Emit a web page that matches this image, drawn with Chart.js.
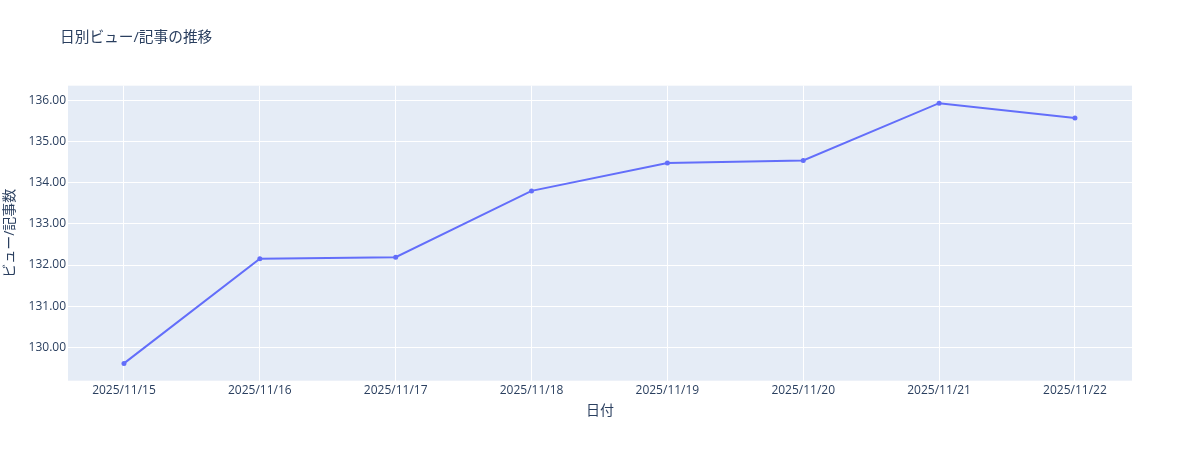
<!DOCTYPE html>
<html>
<head>
<meta charset="utf-8">
<script src="https://cdn.jsdelivr.net/npm/chart.js@4"></script>
<style>
html,body{margin:0;padding:0;background:#fff;}
#wrap{width:1200px;height:450px;}
</style>
</head>
<body>
<div id="wrap"><canvas id="c" width="1200" height="450"></canvas></div>
<script>
const chartTitle = '日別ビュー/記事の推移';
const xTitle = '日付';
const yTitle = 'ビュー/記事数';
const dates = ['2025/11/15','2025/11/16','2025/11/17','2025/11/18','2025/11/19','2025/11/20','2025/11/21','2025/11/22'];
const values = [129.61, 132.15, 132.19, 133.80, 134.48, 134.54, 135.93, 135.57];
const yTicks = [130, 131, 132, 133, 134, 135, 136];

const FONT = '"Open Sans", "Noto Sans CJK JP", sans-serif';
const TXT = '#2a3f5f';

const bgPlugin = {
  id: 'bg',
  beforeDraw(chart) {
    const {ctx, chartArea: a} = chart;
    ctx.save();
    ctx.fillStyle = '#E5ECF6';
    ctx.fillRect(a.left, a.top, a.right - a.left, a.bottom - a.top);
    ctx.restore();
  },
  afterDraw(chart) {
    const ctx = chart.ctx;
    ctx.save();
    ctx.fillStyle = TXT;
    ctx.font = '14.7px ' + FONT;
    ctx.textBaseline = 'middle';
    ctx.textAlign = 'left';
    ctx.fillText(chartTitle, 60, 38);
    ctx.restore();
  }
};

new Chart(document.getElementById('c'), {
  type: 'line',
  data: {
    datasets: [{
      data: values.map((v, i) => ({x: i, y: v})),
      borderColor: '#636efa',
      backgroundColor: '#636efa',
      borderWidth: 2,
      pointRadius: 2.5,
      pointHoverRadius: 2.5,
      pointBorderWidth: 0,
      tension: 0,
      fill: false
    }]
  },
  options: {
    responsive: false,
    animation: false,
    devicePixelRatio: 1,
    layout: {padding: {left: 0, right: 68, top: 85.7, bottom: 9.3}},
    plugins: {legend: {display: false}, tooltip: {enabled: false}, title: {display: false}},
    scales: {
      x: {
        type: 'linear',
        min: -0.412,
        max: 7.42,
        afterBuildTicks(scale) { scale.ticks = dates.map((d, i) => ({value: i})); },
        afterFit(scale) { scale.height = 60; },
        ticks: {
          autoSkip: false,
          maxRotation: 0,
          padding: 3,
          color: TXT,
          font: {family: FONT, size: 12},
          callback: (v) => dates[v]
        },
        grid: {color: '#ffffff', lineWidth: 1, drawTicks: false},
        border: {display: false},
        title: {display: true, text: xTitle, color: TXT, font: {family: FONT, size: 14}, padding: {top: 0, bottom: 21}}
      },
      y: {
        min: 129.19,
        max: 136.355,
        afterBuildTicks(scale) { scale.ticks = yTicks.map(v => ({value: v})); },
        afterFit(scale) { scale.width = 68; },
        ticks: {
          padding: 2,
          color: TXT,
          font: {family: FONT, size: 12},
          callback: (v) => Number(v).toFixed(2)
        },
        grid: {color: '#ffffff', lineWidth: 1, drawTicks: false},
        border: {display: false},
        title: {display: true, text: yTitle, color: TXT, font: {family: FONT, size: 14}, padding: {top: 2, bottom: 0}}
      }
    }
  },
  plugins: [bgPlugin]
});
</script>
</body>
</html>
